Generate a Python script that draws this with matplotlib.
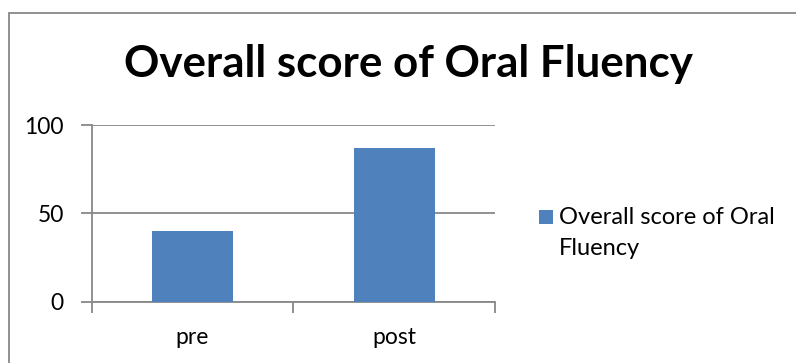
import matplotlib
matplotlib.use("Agg")
import matplotlib.pyplot as plt
from matplotlib.patches import Rectangle

categories = ["pre", "post"]
scores = [40, 87]
series_name = "Overall score of Oral\nFluency"
y_ticks = [0, 50, 100]

plt.rcParams['font.family'] = ['Lato', 'DejaVu Sans']

bar_color = '#4F81BD'
line_gray = '#888888'
W, H = 796, 363

fig = plt.figure(figsize=(W / 100, H / 100), dpi=100)

# chart frame (only left/top edges fall inside the image)
fig.patches.append(Rectangle((9 / W, -0.1), 1.2, 1.1 - 13 / H,
                             transform=fig.transFigure, fill=False,
                             edgecolor=line_gray, linewidth=1.3))

ax = fig.add_axes([91.7 / W, 1 - 301.7 / H, (495 - 91.7) / W, (301.7 - 125) / H])

x = list(range(len(categories)))
ax.bar(x, scores, width=0.4, color=bar_color, zorder=3)

ax.set_xlim(-0.5, len(categories) - 0.5)
ax.set_ylim(0, 100)
ax.set_yticks(y_ticks)
ax.set_yticklabels([str(v) for v in y_ticks], fontsize=16.5)
ax.yaxis.grid(True, color=line_gray, linewidth=1.3, zorder=0)

# category boundaries get the tick marks, labels sit between them
ax.set_xticks([i - 0.5 for i in range(len(categories) + 1)])
ax.set_xticklabels([])
ax.set_xticks(x, minor=True)
ax.set_xticklabels(categories, minor=True, fontsize=16.5)
ax.tick_params(axis='x', which='major', length=8, width=1.3, color=line_gray, direction='out')
ax.tick_params(axis='x', which='minor', length=0, pad=18)
ax.tick_params(axis='y', length=8, width=1.3, color=line_gray, direction='out', pad=12)

for side in ['top', 'right']:
    ax.spines[side].set_visible(False)
for side in ['left', 'bottom']:
    ax.spines[side].set_color(line_gray)
    ax.spines[side].set_linewidth(1.3)

fig.text(408 / W, 1 - 77 / H, "Overall score of Oral Fluency",
         ha='center', va='baseline', fontsize=31.6, fontweight='bold')

# legend: square key with a wrapped two-line label
fig.patches.append(Rectangle((538.5 / W, 1 - 224 / H), 14.5 / W, 14.5 / H,
                             transform=fig.transFigure, facecolor=bar_color,
                             edgecolor='none'))
for i, line in enumerate(series_name.split("\n")):
    fig.text(559 / W, 1 - (224 + 31 * i) / H, line,
             ha='left', va='baseline', fontsize=17)

fig.savefig("out.png", dpi=100)
